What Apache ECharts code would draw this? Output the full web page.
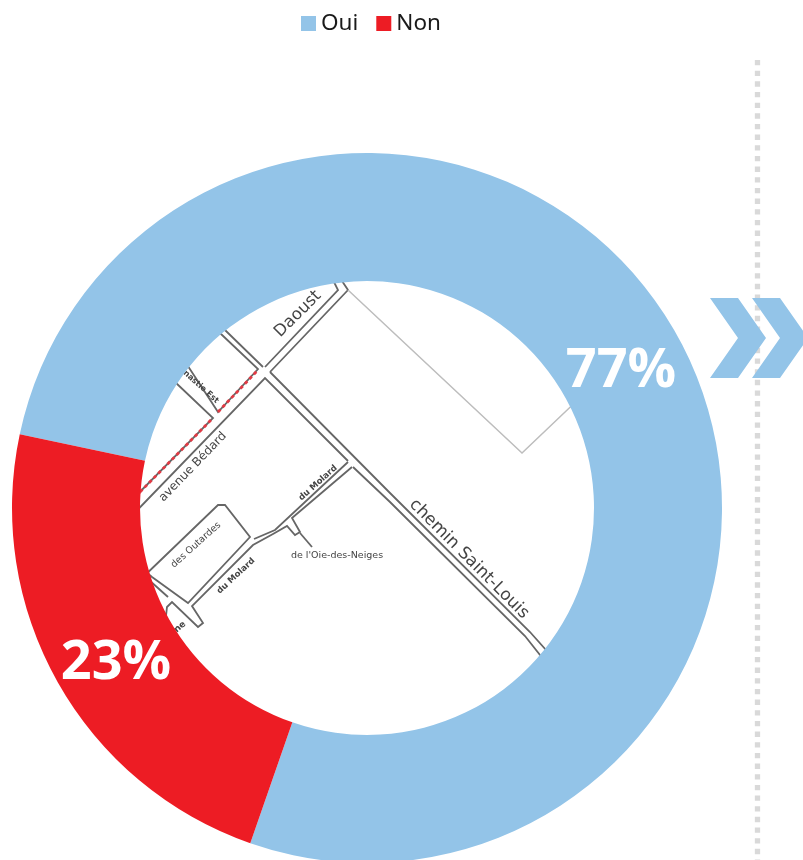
<!DOCTYPE html>
<html><head><meta charset="utf-8">
<script src="https://cdn.jsdelivr.net/npm/echarts@6/dist/echarts.min.js"></script>
<style>html,body{margin:0;padding:0;background:#fff}#c{width:803px;height:860px}</style>
</head><body><div id="c"></div>
<script>
const categories = ['Oui', 'Non'];
const values = [77, 23];
const colours = ['#93c4e8', '#ed1c24'];
const labelSpots = [[621, 372], [116, 664]];

// Decoration: street plan shown inside the ring
const roads = [
  [[140,580],[218,505],[225,505],[250,537],[188,603],[152,577],[140,567]],
  [[254,539],[275,530],[348,462]],
  [[352,467],[292,518],[300,532],[295,535],[287,526],[273,534],[253,545],[192,606],[203,623],[198,627],[172,602],[167,607],[165,625]],
  [[168,597],[140,572]],
  [[300,533],[312,547]],
  [[120,528],[265,378],[348,461]],
  [[120,512],[213,418],[175,382],[160,368]],
  [[182,357],[218,412],[258,369],[221,334],[205,318]],
  [[263,367],[226,331],[210,315]],
  [[265,367],[338,290],[332,278]],
  [[270,372],[348,290],[340,278]],
  [[270,372],[390,493],[530,632],[546,650],[556,666]],
  [[353,467],[390,502],[525,636],[540,655],[548,668]]
];
const paleRoad = [[348,290],[522,453],[585,393]];
const redWork = [[[140,492],[120,512]],[[140,492],[213,418]],[[218,412],[258,370]]];
const streetNames = [
  {t:'Daoust', x:298, y:314, a:45, s:16.5},
  {t:'avenue Bédard', x:193, y:467, a:46, s:12},
  {t:'nastie Est', x:201, y:387, a:-42, s:8, w:'bold'},
  {t:'du Molard', x:318, y:483, a:42, s:8.5, w:'bold'},
  {t:'du Molard', x:236, y:576, a:43, s:8.5, w:'bold'},
  {t:'des Outardes', x:196, y:545, a:42, s:9.5},
  {t:'ne', x:180, y:627, a:40, s:9, w:'bold'},
  {t:'chemin Saint-Louis', x:469, y:559, a:-45, s:17},
  {t:"de l'Oie-des-Neiges", x:337, y:556, a:0, s:9.5}
];
const chevrons = [
  [[710,298],[738,298],[766,338],[738,378],[710,378],[738,338]],
  [[752,298],[780,298],[808,338],[780,378],[752,378],[780,338]]
];

const graphics = [];
roads.forEach(p => graphics.push({type:'polyline', z:1, silent:true, shape:{points:p}, style:{stroke:'#666', lineWidth:1.8, fill:null}}));
graphics.push({type:'polyline', z:1, silent:true, shape:{points:paleRoad}, style:{stroke:'#bdbdbd', lineWidth:1.5, fill:null}});
redWork.forEach(p => graphics.push({type:'polyline', z:1, silent:true, shape:{points:p}, style:{stroke:'#e23a44', lineWidth:2.8, lineDash:[3.5,3], fill:null}}));
streetNames.forEach(n => graphics.push({type:'text', z:1, silent:true, x:n.x, y:n.y, rotation:n.a*Math.PI/180,
  style:{text:n.t, fill:'#444', font:(n.w||'normal')+' '+n.s+'px "DejaVu Sans"', align:'center', verticalAlign:'middle'}}));
graphics.push({type:'line', z:1, silent:true, shape:{x1:757.5,y1:60,x2:757.5,y2:860}, style:{stroke:'#d9d9d9', lineWidth:5.3, lineDash:[5.33,5.33]}});
chevrons.forEach(p => graphics.push({type:'polygon', z:1, silent:true, shape:{points:p}, style:{fill:colours[0]}}));

const chart = echarts.init(document.getElementById('c'), null, {renderer:'canvas'});
chart.setOption({
  animation:false,
  legend:{
    data:categories, top:7, left:296, itemWidth:15, itemHeight:15, itemGap:18,
    icon:'rect', selectedMode:false,
    textStyle:{fontFamily:'Noto Sans', fontSize:22.5, color:'#1a1a1a'}
  },
  graphic:graphics,
  series:[{
    type:'pie', z:2, silent:true,
    center:[367,508], radius:[227,355], startAngle:168, clockwise:true,
    data:categories.map((c,i)=>({name:c, value:values[i], itemStyle:{color:colours[i]}})),
    label:{show:true, position:'inside', formatter:p=>p.value+'%', color:'#fff', fontFamily:'Open Sans', fontWeight:700, fontSize:54},
    labelLine:{show:false},
    labelLayout:p=>({x:labelSpots[p.dataIndex][0], y:labelSpots[p.dataIndex][1], align:'center', verticalAlign:'middle'})
  }]
});
</script></body></html>
